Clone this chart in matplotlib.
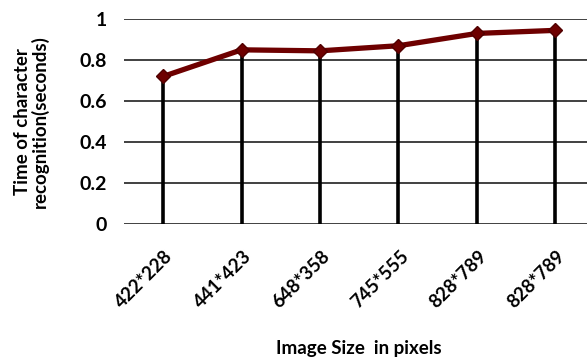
import matplotlib
matplotlib.use("Agg")
import matplotlib.pyplot as plt
from matplotlib.transforms import ScaledTranslation

# Recognition time per image size
sizes = ["422*228", "441*423", "648*358", "745*555", "828*789", "828*789"]
times = [0.72, 0.85, 0.845, 0.87, 0.93, 0.945]
yticks = [0, 0.2, 0.4, 0.6, 0.8, 1]

plt.rcParams["font.family"] = ["Lato", "DejaVu Sans"]
plt.rcParams["font.weight"] = "bold"

fig = plt.figure(figsize=(5.87, 3.62), dpi=100)
ax = fig.add_axes([0.211, 0.381, 0.802, 0.5663])

x = list(range(len(sizes)))
ax.set_xlim(-0.5, len(sizes) - 0.5)
ax.set_ylim(0, 1)

for yv in yticks:
    ax.axhline(yv, color="#404040", lw=1.4, zorder=1)

# drop lines from each point to the axis
ax.vlines(x, 0, times, color="black", lw=2.6, zorder=2)

ax.plot(x, times, color="#6e0000", lw=3.8, marker="D", markersize=7.5,
        markerfacecolor="#6e0000", markeredgecolor="#500000", zorder=3)

for s in ax.spines.values():
    s.set_visible(False)

ax.set_yticks(yticks)
ax.set_yticklabels(["0", "0.2", "0.4", "0.6", "0.8", "1"], fontsize=14, fontweight="bold")
ax.set_xticks(x)
ax.set_xticklabels(sizes, rotation=45, ha="right", va="center",
                   rotation_mode="anchor", fontsize=13.5, fontweight="bold")
ax.tick_params(axis="both", length=0)
ax.tick_params(axis="y", pad=12)
ax.tick_params(axis="x", pad=21)
shift = ScaledTranslation(7 / 100, 0, fig.dpi_scale_trans)
for lbl in ax.get_xticklabels():
    lbl.set_transform(lbl.get_transform() + shift)

ax.set_ylabel("Time of character\nrecognition(seconds)", fontsize=13.5,
              fontweight="bold", labelpad=22, linespacing=1.0)
fig.text(0.612, 0.038, "Image Size  in pixels", ha="center", va="center",
         fontsize=13.5, fontweight="bold")

fig.savefig("out.png", dpi=100)
